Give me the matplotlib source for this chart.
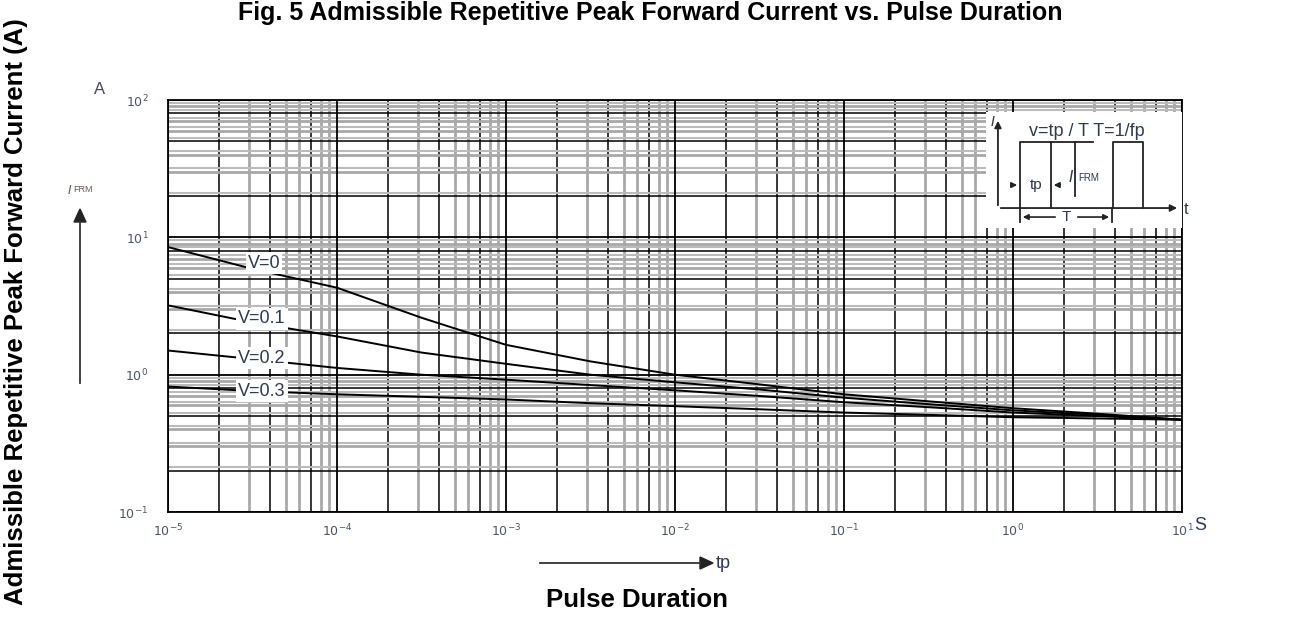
import numpy as np
import matplotlib.pyplot as plt
from matplotlib.ticker import LogLocator, FixedLocator, NullFormatter

plt.rcParams['font.family'] = ['Liberation Sans', 'DejaVu Sans']

# pulse duration (s), read at half-decade steps
tp = [1e-5, 3.16e-5, 1e-4, 3.16e-4, 1e-3, 3.16e-3, 1e-2, 3.16e-2, 1e-1, 3.16e-1, 1e0, 3.16e0, 1e1]
i_v0 = [8.5, 5.9, 4.3, 2.6, 1.65, 1.25, 1.0, 0.85, 0.72, 0.64, 0.57, 0.52, 0.47]
i_v01 = [3.2, 2.4, 1.9, 1.45, 1.2, 1.0, 0.88, 0.78, 0.68, 0.61, 0.55, 0.51, 0.47]
i_v02 = [1.5, 1.3, 1.12, 1.0, 0.92, 0.84, 0.77, 0.70, 0.63, 0.58, 0.53, 0.50, 0.47]
i_v03 = [0.82, 0.76, 0.72, 0.69, 0.66, 0.62, 0.59, 0.56, 0.53, 0.51, 0.49, 0.48, 0.47]
curves = [i_v0, i_v01, i_v02, i_v03]
labels = ['V=0', 'V=0.1', 'V=0.2', 'V=0.3']
label_pos = [(3.7e-5, 6.5), (3.6e-5, 2.55), (3.6e-5, 1.32), (3.6e-5, 0.76)]

xticks = [1e-5, 1e-4, 1e-3, 1e-2, 1e-1, 1e0, 1e1]
xticklabels = ['$10^{-5}$', '$10^{-4}$', '$10^{-3}$', '$10^{-2}$', '$10^{-1}$', '$10^{0}$', '$10^{1}$']
yticks = [1e-1, 1e0, 1e1, 1e2]
yticklabels = ['$10^{-1}$', '$10^{0}$', '$10^{1}$', '$10^{2}$']

tickcol = '#4a5568'

fig = plt.figure(figsize=(12.99, 6.34), dpi=100)
ax = fig.add_axes([0.1293, 0.1924, 0.7806, 0.6498])
ax.set_xscale('log')
ax.set_yscale('log')
ax.set_xlim(1e-5, 1e1)
ax.set_ylim(1e-1, 1e2)

# chart-paper grid: grey thick lines and thin black lines
for dec in range(-5, 1):
    for k in range(2, 10):
        v = k * 10.0 ** dec
        if k in (2, 4, 7):
            ax.axvline(v, color='black', lw=1.1, zorder=1)
        else:
            ax.axvline(v, color='#a8a8a8', lw=2.0, zorder=1)
for dec in range(-1, 2):
    for k in range(2, 10):
        v = k * 10.0 ** dec
        if k in (2, 5, 8):
            ax.axhline(v, color='black', lw=1.1, zorder=1)
        else:
            ax.axhline(v, color='#a8a8a8', lw=2.0, zorder=1)
        ax.axhline(v * 1.06, color='#bbbbbb', lw=1.5, zorder=1)
for v in xticks:
    ax.axvline(v, color='black', lw=1.3, zorder=1)
for v in yticks:
    ax.axhline(v, color='black', lw=1.3, zorder=1)

for ys in curves:
    ax.plot(tp, ys, color='black', lw=1.4, zorder=3)
for lab, (lx, ly) in zip(labels, label_pos):
    ax.text(lx, ly, lab, fontsize=13, color='#2e3a4f', ha='center', va='center', zorder=5,
            bbox=dict(facecolor='white', edgecolor='none', pad=1.5))

ax.xaxis.set_major_locator(FixedLocator(xticks))
ax.xaxis.set_minor_locator(LogLocator(subs='auto'))
ax.xaxis.set_minor_formatter(NullFormatter())
ax.yaxis.set_major_locator(FixedLocator(yticks))
ax.yaxis.set_minor_formatter(NullFormatter())
ax.set_xticklabels(xticklabels)
ax.set_yticklabels(yticklabels)
ax.tick_params(which='both', length=0, labelsize=9, labelcolor=tickcol)
ax.tick_params(axis='x', pad=8)
ax.tick_params(axis='y', pad=14)
for s in ax.spines.values():
    s.set_color('black')
    s.set_linewidth(1.3)

# inset pulse diagram (axes fraction coordinates)
tr = ax.transAxes
def fx(px):
    return (px - 168) / 1014.0
def fy(py):
    return (512 - py) / 412.0

ax.add_patch(plt.Rectangle((fx(986), fy(228)), fx(1182) - fx(986), fy(112) - fy(228),
                           transform=tr, facecolor='white', edgecolor='none', zorder=4))
lk = dict(color='#222222', lw=1.3, transform=tr, zorder=6)
ax.plot([fx(1020), fx(1020), fx(1051), fx(1051)], [fy(208), fy(142), fy(142), fy(208)], **lk)
ax.plot([fx(1051), fx(1093)], [fy(142), fy(142)], **lk)
ax.plot([fx(1075), fx(1075)], [fy(142), fy(196)], **lk)
ax.plot([fx(1113), fx(1113), fx(1143), fx(1143)], [fy(208), fy(142), fy(142), fy(208)], **lk)
ax.plot([fx(1020), fx(1020)], [fy(208), fy(222)], **lk)
ax.plot([fx(1112), fx(1112)], [fy(208), fy(222)], **lk)
ap = dict(arrowstyle='-|>', color='#222222', lw=1.3, mutation_scale=10)
ax.annotate('', xy=(fx(998), fy(118)), xytext=(fx(998), fy(208)), xycoords=tr, textcoords=tr,
            arrowprops=ap, zorder=6)
ax.annotate('', xy=(fx(1180), fy(208)), xytext=(fx(998), fy(208)), xycoords=tr, textcoords=tr,
            arrowprops=ap, zorder=6)
sm = dict(arrowstyle='-|>', color='#222222', lw=1.2, mutation_scale=8)
ax.annotate('', xy=(fx(1020), fy(185)), xytext=(fx(1008), fy(185)), xycoords=tr, textcoords=tr,
            arrowprops=sm, zorder=6)
ax.annotate('', xy=(fx(1051), fy(185)), xytext=(fx(1063), fy(185)), xycoords=tr, textcoords=tr,
            arrowprops=sm, zorder=6)
ax.annotate('', xy=(fx(1020), fy(217)), xytext=(fx(1058), fy(217)), xycoords=tr, textcoords=tr,
            arrowprops=sm, zorder=6)
ax.annotate('', xy=(fx(1112), fy(217)), xytext=(fx(1075), fy(217)), xycoords=tr, textcoords=tr,
            arrowprops=sm, zorder=6)
tk = dict(transform=tr, color='#2e3a4f', zorder=7, va='center')
ax.text(fx(1029), fy(131), 'v=tp / T T=1/fp', fontsize=13, ha='left', **tk)
ax.text(fx(1036), fy(185), 'tp', fontsize=11, ha='center', **tk)
ax.text(fx(1066), fy(217), 'T', fontsize=11, ha='center', **tk)
ax.text(fx(1068), fy(177), r'$I$', fontsize=11, ha='left', **tk)
ax.text(fx(1078), fy(178), 'FRM', fontsize=7, ha='left', **tk)
ax.text(fx(993), fy(122), r'$I$', fontsize=10, ha='center', **tk)
ax.text(fx(1184), fy(209), 't', fontsize=12, ha='left', **tk)

# axis decorations outside the grid
fig.text(100 / 1299, 1 - 90 / 634, 'A', fontsize=12, color='#4a4a55', ha='center', va='center')
fig.text(1200 / 1299, 1 - 526 / 634, 'S', fontsize=13, color='#2e3a4f', ha='center', va='center')
fig.text(72 / 1299, 1 - 190 / 634, r'$I$', fontsize=9, color='#6a5a50', ha='right', va='center')
fig.text(73 / 1299, 1 - 190 / 634, 'FRM', fontsize=6.5, color='#6a5a50', ha='left', va='center')
fig.add_artist(plt.Line2D([80 / 1299, 80 / 1299], [1 - 383 / 634, 1 - 222 / 634], color='#333333', lw=1.3))
fig.patches.append(plt.Polygon([[74 / 1299, 1 - 222 / 634], [86 / 1299, 1 - 222 / 634], [80 / 1299, 1 - 209 / 634]],
                               closed=True, transform=fig.transFigure, color='#222222'))
fig.add_artist(plt.Line2D([540 / 1299, 700 / 1299], [1 - 563 / 634, 1 - 563 / 634], color='#333333', lw=1.3))
fig.patches.append(plt.Polygon([[700 / 1299, 1 - 557 / 634], [700 / 1299, 1 - 569 / 634], [713 / 1299, 1 - 563 / 634]],
                               closed=True, transform=fig.transFigure, color='#222222'))
fig.text(716 / 1299, 1 - 564 / 634, 'tp', fontsize=13, color='#2e3a4f', ha='left', va='center')

fig.text(650 / 1299, 1 - 13 / 634, 'Fig. 5 Admissible Repetitive Peak Forward Current vs. Pulse Duration',
         fontsize=18, fontweight='bold', ha='center', va='center')
fig.text(637 / 1299, 1 - 600 / 634, 'Pulse Duration', fontsize=18.5, fontweight='bold', ha='center', va='center')
fig.text(16 / 1299, 1 - 312 / 634, 'Admissible Repetitive Peak Forward Current (A)', fontsize=18.5,
         fontweight='bold', rotation=90, ha='center', va='center')

fig.savefig('out.png', dpi=100)
